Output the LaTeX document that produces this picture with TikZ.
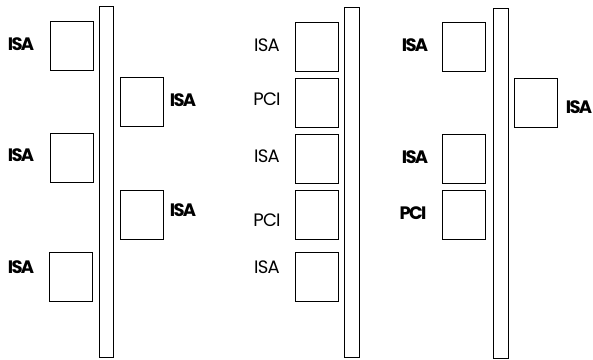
\documentclass[tikz,border=0pt]{standalone}
\usepackage{fontspec}
\setmainfont{Poppins}
\tikzset{
  slot/.style={draw, line width=0.9pt, minimum width=43pt, minimum height=49pt, inner sep=0pt},
  bus/.style={draw, line width=0.9pt, inner sep=0pt},
  lbl/.style={inner sep=0pt, font=\fontsize{18}{18}\selectfont\addfontfeatures{LetterSpace=-4}},
  blbl/.style={inner sep=0pt, font=\fontsize{18}{18}\selectfont\bfseries\addfontfeatures{LetterSpace=-10}},
}
\begin{document}
\begin{tikzpicture}[x=1pt,y=-1pt]
\useasboundingbox (0,0) rectangle (593,359);
% panel 1
\node[bus, minimum width=14pt, minimum height=351pt] (b1) at (106,181.5) {};
\node[slot] (p1a) at (71.5,45.5) {};
\node[slot] (p1b) at (71.5,158) {};
\node[slot] (p1c) at (70.5,277) {};
\node[slot] (p1d) at (141.5,102) {};
\node[slot] (p1e) at (141.5,214.5) {};
\node[blbl] (l1a) at (21,44) {ISA};
\node[blbl] (l1b) at (21,155) {ISA};
\node[blbl] (l1c) at (21,267) {ISA};
\node[blbl] (l1d) at (183,100) {ISA};
\node[blbl] (l1e) at (183,210) {ISA};
% panel 2
\node[bus, minimum width=15pt, minimum height=350pt] (b2) at (351.5,182) {};
\node[slot] (p2a) at (316.5,46.5) {};
\node[slot] (p2b) at (316.5,102.5) {};
\node[slot] (p2c) at (316.5,158.5) {};
\node[slot] (p2d) at (316.5,214.5) {};
\node[slot] (p2e) at (316.5,277) {};
\node[lbl] (l2a) at (267,45) {ISA};
\node[lbl] (l2b) at (267,99) {PCI};
\node[lbl] (l2c) at (267,156) {ISA};
\node[lbl] (l2d) at (267,220) {PCI};
\node[lbl] (l2e) at (267,267) {ISA};
% panel 3
\node[bus, minimum width=15pt, minimum height=350pt] (b3) at (500.5,183) {};
\node[slot] (p3a) at (464,47) {};
\node[slot] (p3b) at (464,159) {};
\node[slot] (p3c) at (464,215) {};
\node[slot] (p3d) at (536,103) {};
\node[blbl] (l3a) at (415,45) {ISA};
\node[blbl] (l3b) at (415,157) {ISA};
\node[blbl] (l3c) at (413,213) {PCI};
\node[blbl] (l3d) at (579,107) {ISA};
\end{tikzpicture}
\end{document}
